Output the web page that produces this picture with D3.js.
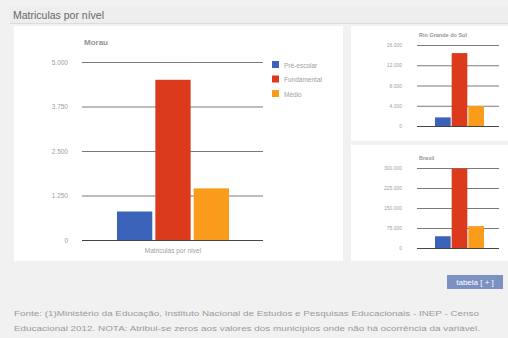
<!DOCTYPE html>
<html><head><meta charset="utf-8">
<script src="https://cdn.jsdelivr.net/npm/d3@7"></script>
<style>
html,body{margin:0;padding:0;background:#f1f1f1;}
svg{display:block;font-family:"Liberation Sans",Arial,sans-serif;}
</style></head>
<body><svg id="c" width="508" height="338"></svg>
<script>
const categories = ["Pré-escolar","Fundamental","Médio"];
const morauValues = [800, 4500, 1450];
const rsValues = [1700, 14400, 3950];
const brasilValues = [44000, 298000, 82000];
const morauTicks = [0, 1250, 2500, 3750, 5000];
const rsTicks = [0, 4000, 8000, 12000, 16000];
const brasilTicks = [0, 75000, 150000, 225000, 300000];
const colors = ["#3a62b8", "#dc3a1c", "#f99c1c"];

const fmt = v => d3.format(",")(v).replace(/,/g, ".");
const svg = d3.select("#c");

svg.append("rect").attr("x",0).attr("y",0).attr("width",508).attr("height",338).attr("fill","#f1f1f1");
svg.append("rect").attr("x",10).attr("y",6).attr("width",498).attr("height",17).attr("fill","#eeeeee");
svg.append("line").attr("x1",10).attr("x2",508).attr("y1",23.5).attr("y2",23.5).attr("stroke","#dcdcdc");
svg.append("text").attr("x",13).attr("y",19).attr("font-size",10.5).attr("fill","#666").text("Matriculas por nível");

svg.append("rect").attr("x",14).attr("y",26).attr("width",329).attr("height",235).attr("fill","#fff");
svg.append("rect").attr("x",351).attr("y",26).attr("width",157).attr("height",115).attr("fill","#fff");
svg.append("rect").attr("x",351).attr("y",145).attr("width",157).attr("height",116).attr("fill","#fff");

function chart(cfg){
  const y = d3.scaleLinear().domain([0, cfg.ticks[cfg.ticks.length-1]]).range([cfg.y0, cfg.y1]);
  const x = d3.scaleBand().domain(categories).range(cfg.xr).paddingInner(cfg.pad).paddingOuter(0);
  const g = svg.append("g");
  const ax = d3.axisLeft(y).tickValues(cfg.ticks).tickFormat(fmt).tickSize(-(cfg.gx[1]-cfg.gx[0])).tickPadding(cfg.tp);
  const a = g.append("g").attr("transform",`translate(${cfg.gx[0]},0)`).call(ax);
  a.select(".domain").remove();
  a.selectAll(".tick line").attr("stroke","#7a7a7a").attr("stroke-width",1);
  a.selectAll(".tick").filter(d=>d===0).select("line").attr("stroke","#444");
  a.selectAll(".tick text").attr("fill","#a0a0a0").attr("font-size",cfg.fs).attr("font-family","Liberation Sans, Arial, sans-serif");
  g.selectAll("rect.bar").data(cfg.values).join("rect").attr("class","bar")
    .attr("x",(d,i)=>x(categories[i])).attr("width",x.bandwidth())
    .attr("y",d=>y(d)).attr("height",d=>y(0)-y(d))
    .attr("fill",(d,i)=>colors[i]);
  g.append("text").attr("x",cfg.tx).attr("y",cfg.ty).attr("font-size",cfg.tfs).attr("font-weight","bold").attr("fill","#959595").text(cfg.title);
  return {x,y};
}

chart({values:morauValues, ticks:morauTicks, y0:240, y1:62, xr:[117,229], pad:0.08, gx:[82,263], tp:14, fs:6.5, tx:84, ty:45, tfs:8, title:"Morau"});
chart({values:rsValues, ticks:rsTicks, y0:126, y1:45, xr:[435,484], pad:0.06, gx:[417,499], tp:15, fs:5, tx:419, ty:37, tfs:5.5, title:"Rio Grande do Sul"});
chart({values:brasilValues, ticks:brasilTicks, y0:248, y1:168, xr:[435,484], pad:0.06, gx:[417,499], tp:15, fs:5, tx:419, ty:160, tfs:5.5, title:"Brasil"});

svg.append("text").attr("x",173).attr("y",253).attr("text-anchor","middle").attr("font-size",6.5).attr("fill","#a0a0a0").text("Matriculas por nível");

const lg = svg.append("g");
categories.forEach((c,i)=>{
  lg.append("rect").attr("x",272).attr("y",61+i*14.5).attr("width",7).attr("height",7).attr("fill",colors[i]);
  lg.append("text").attr("x",284).attr("y",67.5+i*14.5).attr("font-size",6.5).attr("fill","#a0a0a0").text(c);
});

svg.append("rect").attr("x",447).attr("y",275).attr("width",56).attr("height",14).attr("fill","#7a91c2");
svg.append("text").attr("x",475).attr("y",285).attr("text-anchor","middle").attr("font-size",8).attr("fill","#fff").text("tabela  [ + ]");

svg.append("text").attr("x",14).attr("y",316).attr("font-size",8).attr("fill","#9a9a9a")
  .attr("textLength",465).attr("lengthAdjust","spacingAndGlyphs")
  .text("Fonte: (1)Ministério da Educação, Instituto Nacional de Estudos e Pesquisas Educacionais - INEP - Censo");
svg.append("text").attr("x",14).attr("y",331).attr("font-size",8).attr("fill","#9a9a9a")
  .attr("textLength",466).attr("lengthAdjust","spacingAndGlyphs")
  .text("Educacional 2012. NOTA: Atribui-se zeros aos valores dos municípios onde não há ocorrência da variável.");
</script></body></html>
